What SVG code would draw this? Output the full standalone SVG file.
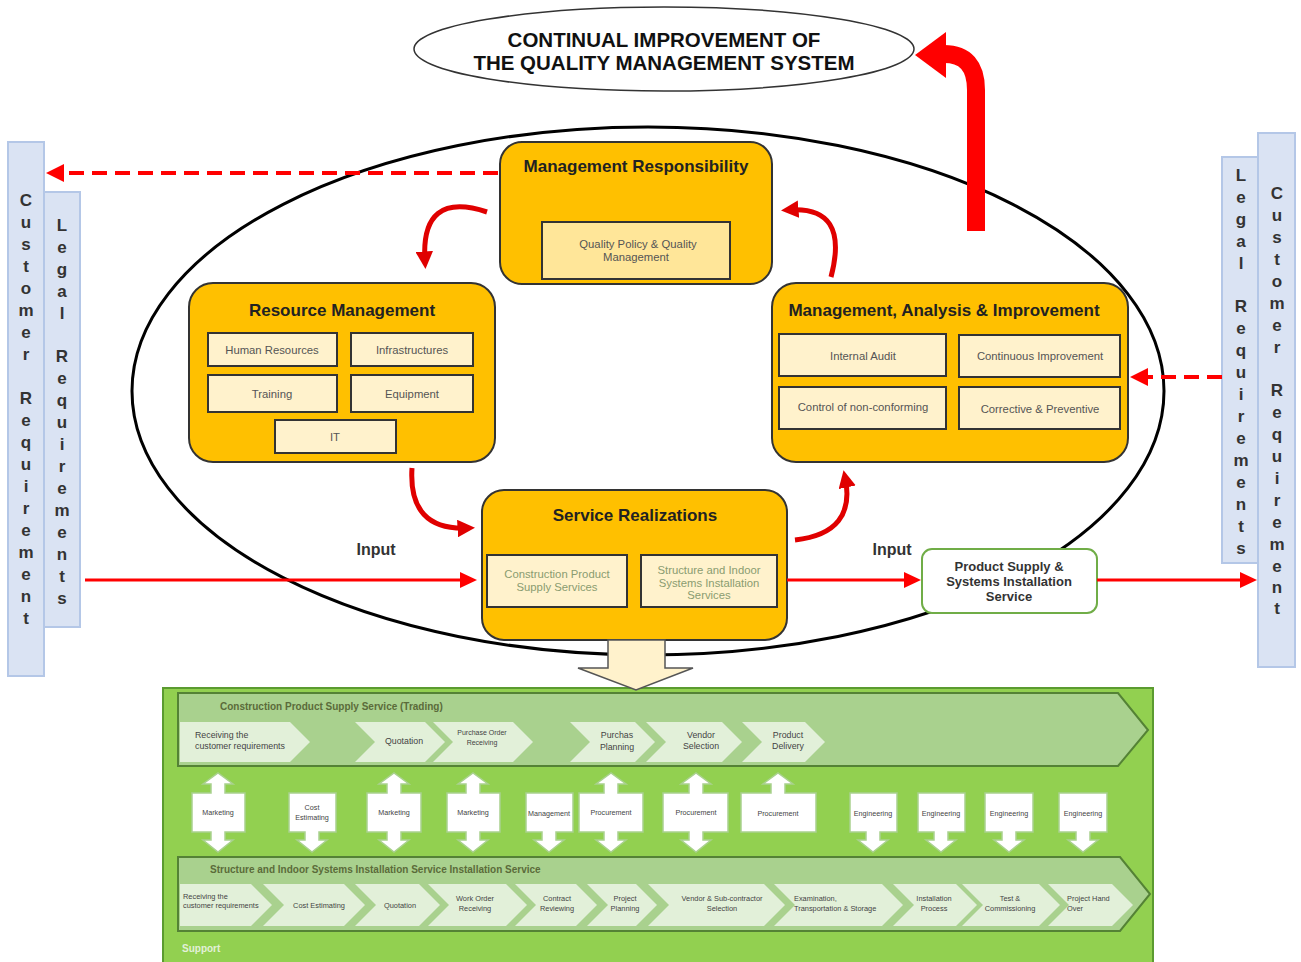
<svg xmlns="http://www.w3.org/2000/svg" width="1301" height="962" viewBox="0 0 1301 962">
<defs>
<style>
text{font-family:"Liberation Sans",Arial,sans-serif;}
.ttl{font-weight:bold;font-size:17px;fill:#222;text-anchor:middle;}
.big{font-weight:bold;font-size:20.5px;fill:#111;text-anchor:middle;}
.box{fill:#FFC000;stroke:#333;stroke-width:2;}
.inb{fill:#FFF2CC;stroke:#333;stroke-width:2;}
.it{font-size:11.3px;fill:#555;text-anchor:middle;}
.bar{fill:#DAE3F3;stroke:#B4C7E7;stroke-width:2;}
.vl{font-weight:bold;font-size:17px;fill:#333;text-anchor:middle;}
.red{fill:none;stroke:#FF0000;}
.proc{fill:#A9D18E;stroke:#548235;stroke-width:2;}
.chev{fill:#E2F0D9;}
.ct{font-size:8.8px;fill:#444;text-anchor:middle;}
.ctl{font-size:8.8px;fill:#444;}
.cb{font-size:7.4px;fill:#444;text-anchor:middle;}
.cbl{font-size:7.4px;fill:#444;}
.pt{font-weight:bold;font-size:10px;fill:#5B6B3A;}
.blk{fill:#fff;stroke:#A9D18E;stroke-width:1.5;}
.bt{font-size:7.2px;fill:#444;text-anchor:middle;}
.srt{font-size:11.3px;fill:#8A9C70;text-anchor:middle;}
</style>
<marker id="ahc" viewBox="0 0 10 10" refX="6" refY="5" markerWidth="3.5" markerHeight="3.5" orient="auto" markerUnits="strokeWidth">
<path d="M0 0 L10 5 L0 10 Z" fill="#E00000"/>
</marker>
</defs>

<rect x="0" y="0" width="1301" height="962" fill="#fff"/>

<g id="outer-ellipse">
<ellipse cx="648" cy="391" rx="516" ry="264" fill="none" stroke="#000" stroke-width="3"/>
</g>

<g id="continual-improvement">
<ellipse cx="664" cy="49" rx="250" ry="42" fill="#fff" stroke="#333" stroke-width="1.5"/>
<text class="big" x="664" y="47">CONTINUAL IMPROVEMENT OF</text>
<text class="big" x="664" y="70">THE QUALITY MANAGEMENT SYSTEM</text>
</g>

<g id="bars">
<g id="customer-left">
<rect class="bar" x="8" y="142" width="36" height="534"/>
<text class="vl"><tspan x="26" y="206">C</tspan><tspan x="26" y="228">u</tspan><tspan x="26" y="250">s</tspan><tspan x="26" y="272">t</tspan><tspan x="26" y="294">o</tspan><tspan x="26" y="316">m</tspan><tspan x="26" y="338">e</tspan><tspan x="26" y="360">r</tspan><tspan x="26" y="404">R</tspan><tspan x="26" y="426">e</tspan><tspan x="26" y="448">q</tspan><tspan x="26" y="470">u</tspan><tspan x="26" y="492">i</tspan><tspan x="26" y="514">r</tspan><tspan x="26" y="536">e</tspan><tspan x="26" y="558">m</tspan><tspan x="26" y="580">e</tspan><tspan x="26" y="602">n</tspan><tspan x="26" y="624">t</tspan></text>
</g>
<g id="legal-left">
<rect class="bar" x="44" y="192" width="36" height="435"/>
<text class="vl"><tspan x="62" y="231">L</tspan><tspan x="62" y="253">e</tspan><tspan x="62" y="275">g</tspan><tspan x="62" y="297">a</tspan><tspan x="62" y="319">l</tspan><tspan x="62" y="362">R</tspan><tspan x="62" y="384">e</tspan><tspan x="62" y="406">q</tspan><tspan x="62" y="428">u</tspan><tspan x="62" y="450">i</tspan><tspan x="62" y="472">r</tspan><tspan x="62" y="494">e</tspan><tspan x="62" y="516">m</tspan><tspan x="62" y="538">e</tspan><tspan x="62" y="560">n</tspan><tspan x="62" y="582">t</tspan><tspan x="62" y="604">s</tspan></text>
</g>
<g id="legal-right">
<rect class="bar" x="1222" y="157" width="36" height="406"/>
<text class="vl"><tspan x="1241" y="181">L</tspan><tspan x="1241" y="203">e</tspan><tspan x="1241" y="225">g</tspan><tspan x="1241" y="247">a</tspan><tspan x="1241" y="269">l</tspan><tspan x="1241" y="312">R</tspan><tspan x="1241" y="334">e</tspan><tspan x="1241" y="356">q</tspan><tspan x="1241" y="378">u</tspan><tspan x="1241" y="400">i</tspan><tspan x="1241" y="422">r</tspan><tspan x="1241" y="444">e</tspan><tspan x="1241" y="466">m</tspan><tspan x="1241" y="488">e</tspan><tspan x="1241" y="510">n</tspan><tspan x="1241" y="532">t</tspan><tspan x="1241" y="554">s</tspan></text>
</g>
<g id="customer-right">
<rect class="bar" x="1258" y="133" width="37" height="534"/>
<text class="vl"><tspan x="1277" y="199">C</tspan><tspan x="1277" y="221">u</tspan><tspan x="1277" y="243">s</tspan><tspan x="1277" y="265">t</tspan><tspan x="1277" y="287">o</tspan><tspan x="1277" y="309">m</tspan><tspan x="1277" y="331">e</tspan><tspan x="1277" y="353">r</tspan><tspan x="1277" y="396">R</tspan><tspan x="1277" y="418">e</tspan><tspan x="1277" y="440">q</tspan><tspan x="1277" y="462">u</tspan><tspan x="1277" y="484">i</tspan><tspan x="1277" y="506">r</tspan><tspan x="1277" y="528">e</tspan><tspan x="1277" y="550">m</tspan><tspan x="1277" y="572">e</tspan><tspan x="1277" y="593">n</tspan><tspan x="1277" y="614">t</tspan></text>
</g>
</g>

<g id="management-responsibility">
<rect class="box" x="500" y="142" width="272" height="142" rx="22"/>
<text class="ttl" x="636" y="172">Management Responsibility</text>
<rect x="542" y="222" width="188" height="57" fill="#FFE699" stroke="#333" stroke-width="2"/>
<text class="it" x="638" y="248">Quality Policy &amp; Quality</text>
<text class="it" x="636" y="261">Management</text>
</g>

<g id="resource-management">
<rect class="box" x="189" y="283" width="306" height="179" rx="24"/>
<text class="ttl" x="342" y="316">Resource Management</text>
<rect class="inb" x="208" y="333" width="129" height="33"/>
<text class="it" x="272" y="354">Human Resources</text>
<rect class="inb" x="351" y="333" width="122" height="33"/>
<text class="it" x="412" y="354">Infrastructures</text>
<rect class="inb" x="208" y="375" width="129" height="37"/>
<text class="it" x="272" y="398">Training</text>
<rect class="inb" x="351" y="375" width="122" height="37"/>
<text class="it" x="412" y="398">Equipment</text>
<rect class="inb" x="275" y="420" width="121" height="33"/>
<text class="it" x="335" y="441">IT</text>
</g>

<g id="management-analysis-improvement">
<rect class="box" x="772" y="283" width="356" height="179" rx="24"/>
<text class="ttl" x="944" y="316">Management, Analysis &amp; Improvement</text>
<rect class="inb" x="779" y="334" width="167" height="42"/>
<text class="it" x="863" y="360">Internal Audit</text>
<rect class="inb" x="959" y="335" width="161" height="42"/>
<text class="it" x="1040" y="360">Continuous Improvement</text>
<rect class="inb" x="779" y="387" width="167" height="42"/>
<text class="it" x="863" y="411">Control of non-conforming</text>
<rect class="inb" x="959" y="387" width="161" height="42"/>
<text class="it" x="1040" y="413">Corrective &amp; Preventive</text>
</g>

<g id="service-realizations">
<rect class="box" x="482" y="490" width="305" height="150" rx="22"/>
<text class="ttl" x="635" y="521">Service Realizations</text>
<rect class="inb" x="487" y="555" width="140" height="52"/>
<text class="srt" x="557" y="578">Construction Product</text>
<text class="srt" x="557" y="591">Supply Services</text>
<rect class="inb" x="641" y="555" width="136" height="52"/>
<text class="srt" x="709" y="574">Structure and Indoor</text>
<text class="srt" x="709" y="587">Systems Installation</text>
<text class="srt" x="709" y="599">Services</text>
</g>

<g id="product-supply">
<rect x="922" y="549" width="175" height="64" rx="10" fill="#fff" stroke="#70AD47" stroke-width="2"/>
<text x="1009" y="571" style="font-weight:bold;font-size:13px;fill:#333;text-anchor:middle">Product Supply &amp;</text>
<text x="1009" y="586" style="font-weight:bold;font-size:13px;fill:#333;text-anchor:middle">Systems Installation</text>
<text x="1009" y="601" style="font-weight:bold;font-size:13px;fill:#333;text-anchor:middle">Service</text>
</g>

<g id="connectors">
<path d="M976 231 V90 Q976 54 944 54" fill="none" stroke="#FF0000" stroke-width="18"/>
<path d="M946 32 L915 55 L946 78 Z" fill="#FF0000"/>
<path class="red" d="M498 173 H62" stroke-width="4" stroke-dasharray="15 8"/>
<path d="M64 164 L46 173 L64 182 Z" fill="#FF0000"/>
<path class="red" d="M1222 377 H1146" stroke-width="4" stroke-dasharray="15 8"/>
<path d="M1148 368 L1130 377 L1148 386 Z" fill="#FF0000"/>
<path class="red" d="M85 580 H462" stroke-width="3"/>
<path d="M460 572 L477 580 L460 588 Z" fill="#FF0000"/>
<path class="red" d="M787 580 H906" stroke-width="3"/>
<path d="M904 572 L921 580 L904 588 Z" fill="#FF0000"/>
<path class="red" d="M1097 580 H1242" stroke-width="3"/>
<path d="M1240 572 L1257 580 L1240 588 Z" fill="#FF0000"/>
<path d="M487 212 Q420 190 425 262" fill="none" stroke="#E00000" stroke-width="5" marker-end="url(#ahc)"/>
<path d="M831 277 Q850 205 788 210" fill="none" stroke="#E00000" stroke-width="5" marker-end="url(#ahc)"/>
<path d="M412 468 Q408 531 468 528" fill="none" stroke="#E00000" stroke-width="5" marker-end="url(#ahc)"/>
<path d="M795 540 Q857 533 845 477" fill="none" stroke="#E00000" stroke-width="5" marker-end="url(#ahc)"/>
<text x="376" y="555" style="font-weight:bold;font-size:16px;fill:#333;text-anchor:middle">Input</text>
<text x="892" y="555" style="font-weight:bold;font-size:16px;fill:#333;text-anchor:middle">Input</text>
</g>

<g id="processes">
<rect x="163" y="688" width="990" height="280" fill="#92D050" stroke="#5B9B30" stroke-width="2"/>

<g id="trading">
<path class="proc" d="M178 693 H1118 L1148 730 L1118 766 H178 Z"/>
<text class="pt" x="220" y="710">Construction Product Supply Service (Trading)</text>
<path class="chev" d="M180 722 H290 L310 742 L290 762 H180 Z"/>
<path class="chev" d="M355 722 H425 L445 742 L425 762 H355 L375 742 Z"/>
<path class="chev" d="M433 722 H513 L533 742 L513 762 H433 L453 742 Z"/>
<path class="chev" d="M570 722 H635 L655 742 L635 762 H570 L590 742 Z"/>
<path class="chev" d="M646 722 H722 L742 742 L722 762 H646 L666 742 Z"/>
<path class="chev" d="M742 722 H805 L825 742 L805 762 H742 L762 742 Z"/>
<text class="ctl" x="195" y="738">Receiving the</text>
<text class="ctl" x="195" y="749">customer requirements</text>
<text class="ct" x="404" y="744">Quotation</text>
<text class="ct" x="482" y="735" style="font-size:7px">Purchase Order</text>
<text class="ct" x="482" y="745" style="font-size:7px">Receiving</text>
<text class="ct" x="617" y="738">Purchas</text>
<text class="ct" x="617" y="750">Planning</text>
<text class="ct" x="701" y="738">Vendor</text>
<text class="ct" x="701" y="749">Selection</text>
<text class="ct" x="788" y="738">Product</text>
<text class="ct" x="788" y="749">Delivery</text>
</g>

<g id="support-links">
<path class="blk" d="M192 793 H211 V784 H203 L218 773 L233 784 H225 V793 H245 V832 H225 V840 H233 L218 852 L203 840 H211 V832 H192 Z"/>
<text class="bt" x="218" y="815">Marketing</text>
<path class="blk" d="M289 793 H336 V832 H319 V840 H327 L312 852 L297 840 H305 V832 H289 Z"/>
<text class="bt" x="312" y="810">Cost</text>
<text class="bt" x="312" y="820">Estimating</text>
<path class="blk" d="M367 793 H387 V784 H379 L394 773 L409 784 H401 V793 H421 V832 H401 V840 H409 L394 852 L379 840 H387 V832 H367 Z"/>
<text class="bt" x="394" y="815">Marketing</text>
<path class="blk" d="M447 793 H466 V784 H458 L473 773 L488 784 H480 V793 H500 V832 H480 V840 H488 L473 852 L458 840 H466 V832 H447 Z"/>
<text class="bt" x="473" y="815">Marketing</text>
<path class="blk" d="M526 793 H573 V832 H556 V840 H564 L549 852 L534 840 H542 V832 H526 Z"/>
<text class="bt" x="549" y="816">Management</text>
<path class="blk" d="M579 793 H604 V784 H596 L611 773 L626 784 H618 V793 H643 V832 H618 V840 H626 L611 852 L596 840 H604 V832 H579 Z"/>
<text class="bt" x="611" y="815">Procurement</text>
<path class="blk" d="M663 793 H689 V784 H681 L696 773 L711 784 H703 V793 H728 V832 H703 V840 H711 L696 852 L681 840 H689 V832 H663 Z"/>
<text class="bt" x="696" y="815">Procurement</text>
<path class="blk" d="M741 793 H771 V784 H763 L778 773 L793 784 H785 V793 H816 V832 H741 Z"/>
<text class="bt" x="778" y="816">Procurement</text>
<path class="blk" d="M850 793 H897 V832 H880 V840 H888 L873 852 L858 840 H866 V832 H850 Z"/>
<text class="bt" x="873" y="816">Engineering</text>
<path class="blk" d="M918 793 H965 V832 H948 V840 H956 L941 852 L926 840 H934 V832 H918 Z"/>
<text class="bt" x="941" y="816">Engineering</text>
<path class="blk" d="M985 793 H1033 V832 H1016 V840 H1024 L1009 852 L994 840 H1002 V832 H985 Z"/>
<text class="bt" x="1009" y="816">Engineering</text>
<path class="blk" d="M1059 793 H1107 V832 H1090 V840 H1098 L1083 852 L1068 840 H1076 V832 H1059 Z"/>
<text class="bt" x="1083" y="816">Engineering</text>
</g>

<g id="installation">
<path class="proc" d="M178 857 H1120 L1150 894 L1120 931 H178 Z"/>
<text class="pt" x="210" y="873">Structure and Indoor Systems Installation Service Installation Service</text>
<path class="chev" d="M180 884 H251 L272 905 L251 926 H180 Z"/>
<path class="chev" d="M263 884 H344 L365 905 L344 926 H263 L284 905 Z"/>
<path class="chev" d="M355 884 H419 L440 905 L419 926 H355 L376 905 Z"/>
<path class="chev" d="M428 884 H506 L527 905 L506 926 H428 L449 905 Z"/>
<path class="chev" d="M515 884 H576 L597 905 L576 926 H515 L536 905 Z"/>
<path class="chev" d="M587 884 H636 L657 905 L636 926 H587 L608 905 Z"/>
<path class="chev" d="M648 884 H764 L785 905 L764 926 H648 L669 905 Z"/>
<path class="chev" d="M774 884 H882 L903 905 L882 926 H774 L795 905 Z"/>
<path class="chev" d="M893 884 H956 L977 905 L956 926 H893 L914 905 Z"/>
<path class="chev" d="M962 884 H1039 L1060 905 L1039 926 H962 L983 905 Z"/>
<path class="chev" d="M1048 884 H1112 L1133 905 L1112 926 H1048 L1069 905 Z"/>
<text class="cbl" x="183" y="899">Receiving the</text>
<text class="cbl" x="183" y="908">customer requirements</text>
<text class="cb" x="319" y="908">Cost Estimating</text>
<text class="cb" x="400" y="908">Quotation</text>
<text class="cb" x="475" y="901">Work Order</text>
<text class="cb" x="475" y="911">Receiving</text>
<text class="cb" x="557" y="901">Contract</text>
<text class="cb" x="557" y="911">Reviewing</text>
<text class="cb" x="625" y="901">Project</text>
<text class="cb" x="625" y="911">Planning</text>
<text class="cb" x="722" y="901">Vendor &amp; Sub-contractor</text>
<text class="cb" x="722" y="911">Selection</text>
<text class="cbl" x="794" y="901">Examination,</text>
<text class="cbl" x="794" y="911">Transportation &amp; Storage</text>
<text class="cb" x="934" y="901">Installation</text>
<text class="cb" x="934" y="911">Process</text>
<text class="cb" x="1010" y="901">Test &amp;</text>
<text class="cb" x="1010" y="911">Commissioning</text>
<text class="cbl" x="1067" y="901">Project Hand</text>
<text class="cbl" x="1067" y="911">Over</text>
</g>
<text x="182" y="952" style="font-weight:bold;font-size:10px;fill:#E2F0D9">Support</text>
</g>

<g id="realization-output">
<path d="M608 640 H665 V668 H693 L636 690 L578 668 H608 Z" fill="#FFF2CC" stroke="#555" stroke-width="1.5"/>
</g>
</svg>
